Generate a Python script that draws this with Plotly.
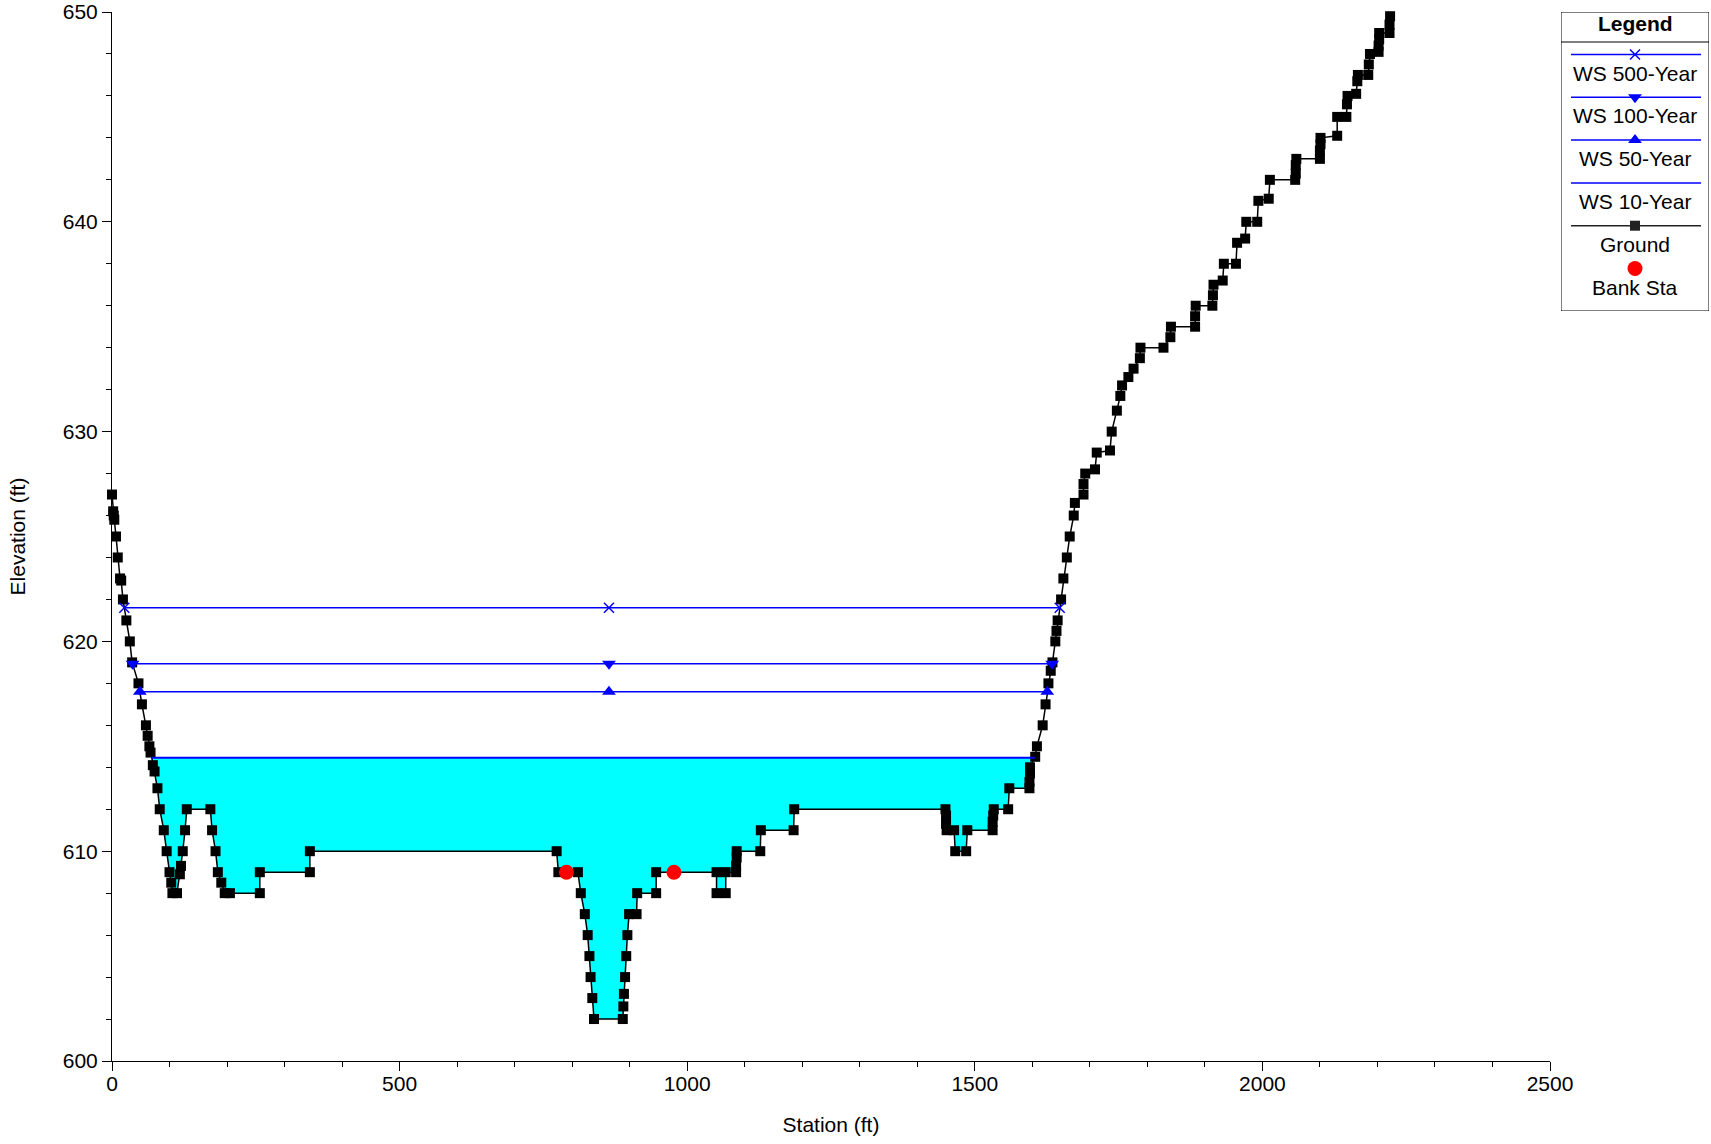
import plotly.graph_objects as go

# ---------------- data ----------------
ground_station = [0, 2, 3, 4, 7, 10, 14, 16, 19, 25, 31, 35, 46, 52, 59, 62, 65, 67, 71, 74, 79, 83, 90, 95,
                  100, 103, 105, 113, 118, 120, 123, 127, 130, 171, 174, 180, 184, 190, 196, 205, 257, 257,
                  344, 344, 773, 776, 810, 815, 822, 827, 830, 832, 835, 838, 888, 889, 890, 892, 894, 896,
                  899, 912, 913, 946, 946, 1051, 1051, 1067, 1067, 1085, 1085, 1086, 1086, 1127, 1128,
                  1185, 1186, 1449, 1450, 1450, 1451, 1464, 1466, 1485, 1487, 1531, 1531, 1532, 1533,
                  1558, 1560, 1595, 1595, 1596, 1596, 1605, 1608, 1618, 1623, 1628, 1632, 1635, 1640,
                  1642, 1644, 1650, 1654, 1660, 1665, 1672, 1674, 1689, 1689, 1692, 1709, 1712, 1735,
                  1738, 1747, 1753, 1756, 1767, 1776, 1787, 1788, 1828, 1840, 1841, 1883, 1883, 1884,
                  1913, 1914, 1915, 1931, 1933, 1954, 1956, 1970, 1972, 1991, 1993, 2011, 2013, 2057,
                  2058, 2058, 2059, 2100, 2100, 2101, 2101, 2130, 2130, 2146, 2147, 2148, 2163, 2165,
                  2166, 2184, 2185, 2187, 2202, 2202, 2203, 2203, 2221, 2221, 2222]
ground_elev = [627.0, 626.2, 626.0, 625.8, 625.0, 624.0, 623.0, 622.9, 622.0, 621.0, 620.0, 619.0, 618.0,
               617.0, 616.0, 615.5, 615.0, 614.7, 614.1, 613.8, 613.0, 612.0, 611.0, 610.0, 609.0, 608.5,
               608.0, 608.0, 608.9, 609.3, 610.0, 611.0, 612.0, 612.0, 611.0, 610.0, 609.0, 608.5, 608.0,
               608.0, 608.0, 609.0, 609.0, 610.0, 610.0, 609.0, 609.0, 608.0, 607.0, 606.0, 605.0, 604.0,
               603.0, 602.0, 602.0, 602.6, 603.2, 604.0, 605.0, 606.0, 607.0, 607.0, 608.0, 608.0, 609.0,
               609.0, 608.0, 608.0, 609.0, 609.0, 609.3, 609.7, 610.0, 610.0, 611.0, 611.0, 612.0, 612.0,
               611.7, 611.3, 611.0, 611.0, 610.0, 610.0, 611.0, 611.0, 611.4, 611.7, 612.0, 612.0, 613.0,
               613.0, 613.3, 613.7, 614.0, 614.5, 615.0, 616.0, 617.0, 618.0, 618.6, 619.0, 620.0, 620.5,
               621.0, 622.0, 623.0, 624.0, 625.0, 626.0, 626.6, 627.0, 627.5, 628.0, 628.2, 629.0, 629.1,
               630.0, 631.0, 631.7, 632.2, 632.6, 633.0, 633.5, 634.0, 634.0, 634.5, 635.0, 635.0, 635.5,
               636.0, 636.0, 636.5, 637.0, 637.2, 638.0, 638.0, 639.0, 639.2, 640.0, 640.0, 641.0, 641.1,
               642.0, 642.0, 642.3, 642.7, 643.0, 643.0, 643.4, 643.7, 644.0, 644.1, 645.0, 645.0, 645.6,
               646.0, 646.1, 646.7, 647.0, 647.0, 647.5, 648.0, 648.1, 648.4, 648.7, 649.0, 649.0, 649.4,
               649.8]

bank_station = [790, 977]
bank_elev = [609.0, 609.0]

ws_names = ["WS 500-Year", "WS 100-Year", "WS 50-Year", "WS 10-Year"]
ws_elev = [621.6, 618.93, 617.6, 614.46]
ws_symbols = ["x-thin", "triangle-down", "triangle-up", None]
ws_mid_station = 864

x_ticks = [0, 500, 1000, 1500, 2000, 2500]
y_ticks = [600, 610, 620, 630, 640, 650]

# ---------------- helpers ----------------
def crossings(level):
    n = len(ground_station)
    left = right = None
    for i in range(n - 1):
        e0, e1 = ground_elev[i], ground_elev[i + 1]
        if e0 >= level > e1:
            s0, s1 = ground_station[i], ground_station[i + 1]
            left = s0 + (e0 - level) / (e0 - e1) * (s1 - s0)
            break
    for i in range(n - 1, 0, -1):
        e0, e1 = ground_elev[i], ground_elev[i - 1]
        if e0 >= level > e1:
            s0, s1 = ground_station[i], ground_station[i - 1]
            right = s0 + (e0 - level) / (e0 - e1) * (s1 - s0)
            break
    return left, right

# ---------------- geometry (pixels) ----------------
W, H = 1711, 1144
ML, MR, MT, MB = 112, 1, 12, 83
paper_w = W - ML - MR
paper_h = H - MT - MB
plot_right = 1550
leg_l, leg_r, leg_t, leg_b = 1561, 1709, 12, 311

BLUE = "#0000FF"
FONT = "Arial, 'Liberation Sans', sans-serif"
FS = 21
SYM_SIZE = {"x-thin": 10, "triangle-down": 12, "triangle-up": 12, "square": 10, "circle": 15}

fig = go.Figure()

# water fill for the lowest profile
lvl = min(ws_elev)
L, R = crossings(lvl)
fx = [L] + [s for s in ground_station if L < s < R] + [R]
fy = [lvl] + [e for s, e in zip(ground_station, ground_elev) if L < s < R] + [lvl]
fig.add_trace(go.Scatter(x=fx, y=fy, fill="toself", fillcolor="#00FFFF", mode="lines",
                         line=dict(width=0), hoverinfo="skip", showlegend=False))

# ground
fig.add_trace(go.Scatter(x=ground_station, y=ground_elev, mode="lines+markers", name="Ground",
                         line=dict(color="black", width=1.5),
                         marker=dict(symbol="square", size=SYM_SIZE["square"], color="black"),
                         cliponaxis=False, showlegend=False))

# water surfaces
for name, e, sym in zip(ws_names, ws_elev, ws_symbols):
    l, r = crossings(e)
    if sym is None:
        fig.add_trace(go.Scatter(x=[l, r], y=[e, e], mode="lines", name=name,
                                 line=dict(color=BLUE, width=2), showlegend=False))
    else:
        mk = dict(symbol=sym, size=SYM_SIZE[sym], color=BLUE,
                  line=dict(color=BLUE, width=1.5 if sym == "x-thin" else 0))
        fig.add_trace(go.Scatter(x=[l, ws_mid_station, r], y=[e, e, e], mode="lines+markers", name=name,
                                 line=dict(color=BLUE, width=1.5), marker=mk,
                                 cliponaxis=False, showlegend=False))

# bank stations
fig.add_trace(go.Scatter(x=bank_station, y=bank_elev, mode="markers", name="Bank Sta",
                         marker=dict(symbol="circle", size=SYM_SIZE["circle"], color="red"),
                         cliponaxis=False, showlegend=False))

# ---------------- custom legend (on a pixel-based helper axis) ----------------
leg_items = [("WS 500-Year", BLUE, "x-thin"), ("WS 100-Year", BLUE, "triangle-down"),
             ("WS 50-Year", BLUE, "triangle-up"), ("WS 10-Year", BLUE, None),
             ("Ground", "#222222", "square"), ("Bank Sta", "red", "circle")]
line_y0, step = 54.5, 42.8
cx = (leg_l + leg_r) / 2
for i, (name, col, sym) in enumerate(leg_items):
    ly = line_y0 + i * step
    if name != "Bank Sta":
        fig.add_trace(go.Scatter(x=[leg_l + 10, leg_r - 8], y=[ly, ly], mode="lines", xaxis="x2", yaxis="y2",
                                 line=dict(color=col, width=1.5), showlegend=False, hoverinfo="skip"))
    if sym is not None:
        fig.add_trace(go.Scatter(x=[cx], y=[ly], mode="markers", xaxis="x2", yaxis="y2",
                                 marker=dict(symbol=sym, size=SYM_SIZE[sym], color=col,
                                             line=dict(color=col, width=1.5 if sym == "x-thin" else 0)),
                                 cliponaxis=False, showlegend=False, hoverinfo="skip"))
    fig.add_annotation(x=cx, y=ly + 18.5, xref="x2", yref="y2", text=name,
                       showarrow=False, xanchor="center", yanchor="middle",
                       font=dict(family=FONT, size=FS, color="black"))

fig.add_annotation(x=cx, y=23, xref="x2", yref="y2", text="<b>Legend</b>",
                   showarrow=False, xanchor="center", yanchor="middle",
                   font=dict(family=FONT, size=FS, color="black"))
fig.add_shape(type="rect", x0=leg_l, x1=leg_r, y0=leg_t, y1=leg_b, xref="x2", yref="y2",
              line=dict(color="black", width=1))
fig.add_shape(type="line", x0=leg_l, x1=leg_r, y0=42, y1=42, xref="x2", yref="y2",
              line=dict(color="black", width=1))

# ---------------- layout ----------------
axis_common = dict(showline=True, linecolor="black", linewidth=1, ticks="outside", ticklen=9,
                   tickwidth=1, tickcolor="black", showgrid=False, zeroline=False,
                   tickfont=dict(family=FONT, size=FS, color="black"), automargin=False)

fig.update_layout(
    width=W, height=H,
    margin=dict(l=ML, r=MR, t=MT, b=MB, pad=0),
    paper_bgcolor="white", plot_bgcolor="white",
    showlegend=False,
    font=dict(family=FONT, size=FS, color="black"),
    xaxis=dict(range=[0, 2500], domain=[0, (plot_right - ML) / paper_w], tickvals=x_ticks,
               minor=dict(dtick=100, ticks="outside", ticklen=5, tickcolor="black"),
               ticklabelstandoff=-5,
               title=dict(text="Station (ft)", font=dict(family=FONT, size=FS), standoff=23),
               **axis_common),
    yaxis=dict(range=[600, 650], domain=[0, 1], tickvals=y_ticks,
               minor=dict(dtick=2, ticks="outside", ticklen=5, tickcolor="black"),
               title=dict(text="Elevation (ft)", font=dict(family=FONT, size=FS), standoff=31),
               **axis_common),
    xaxis2=dict(range=[leg_l, leg_r], domain=[(leg_l - ML) / paper_w, (leg_r - ML) / paper_w],
                visible=False, anchor="y2", fixedrange=True),
    yaxis2=dict(range=[leg_b, leg_t], domain=[(H - MB - leg_b) / paper_h, (H - MB - leg_t) / paper_h],
                visible=False, anchor="x2", fixedrange=True),
)

fig.write_html("out.html", config={"displayModeBar": False},
               post_script="document.body.style.margin='0';document.body.style.overflow='hidden';")
